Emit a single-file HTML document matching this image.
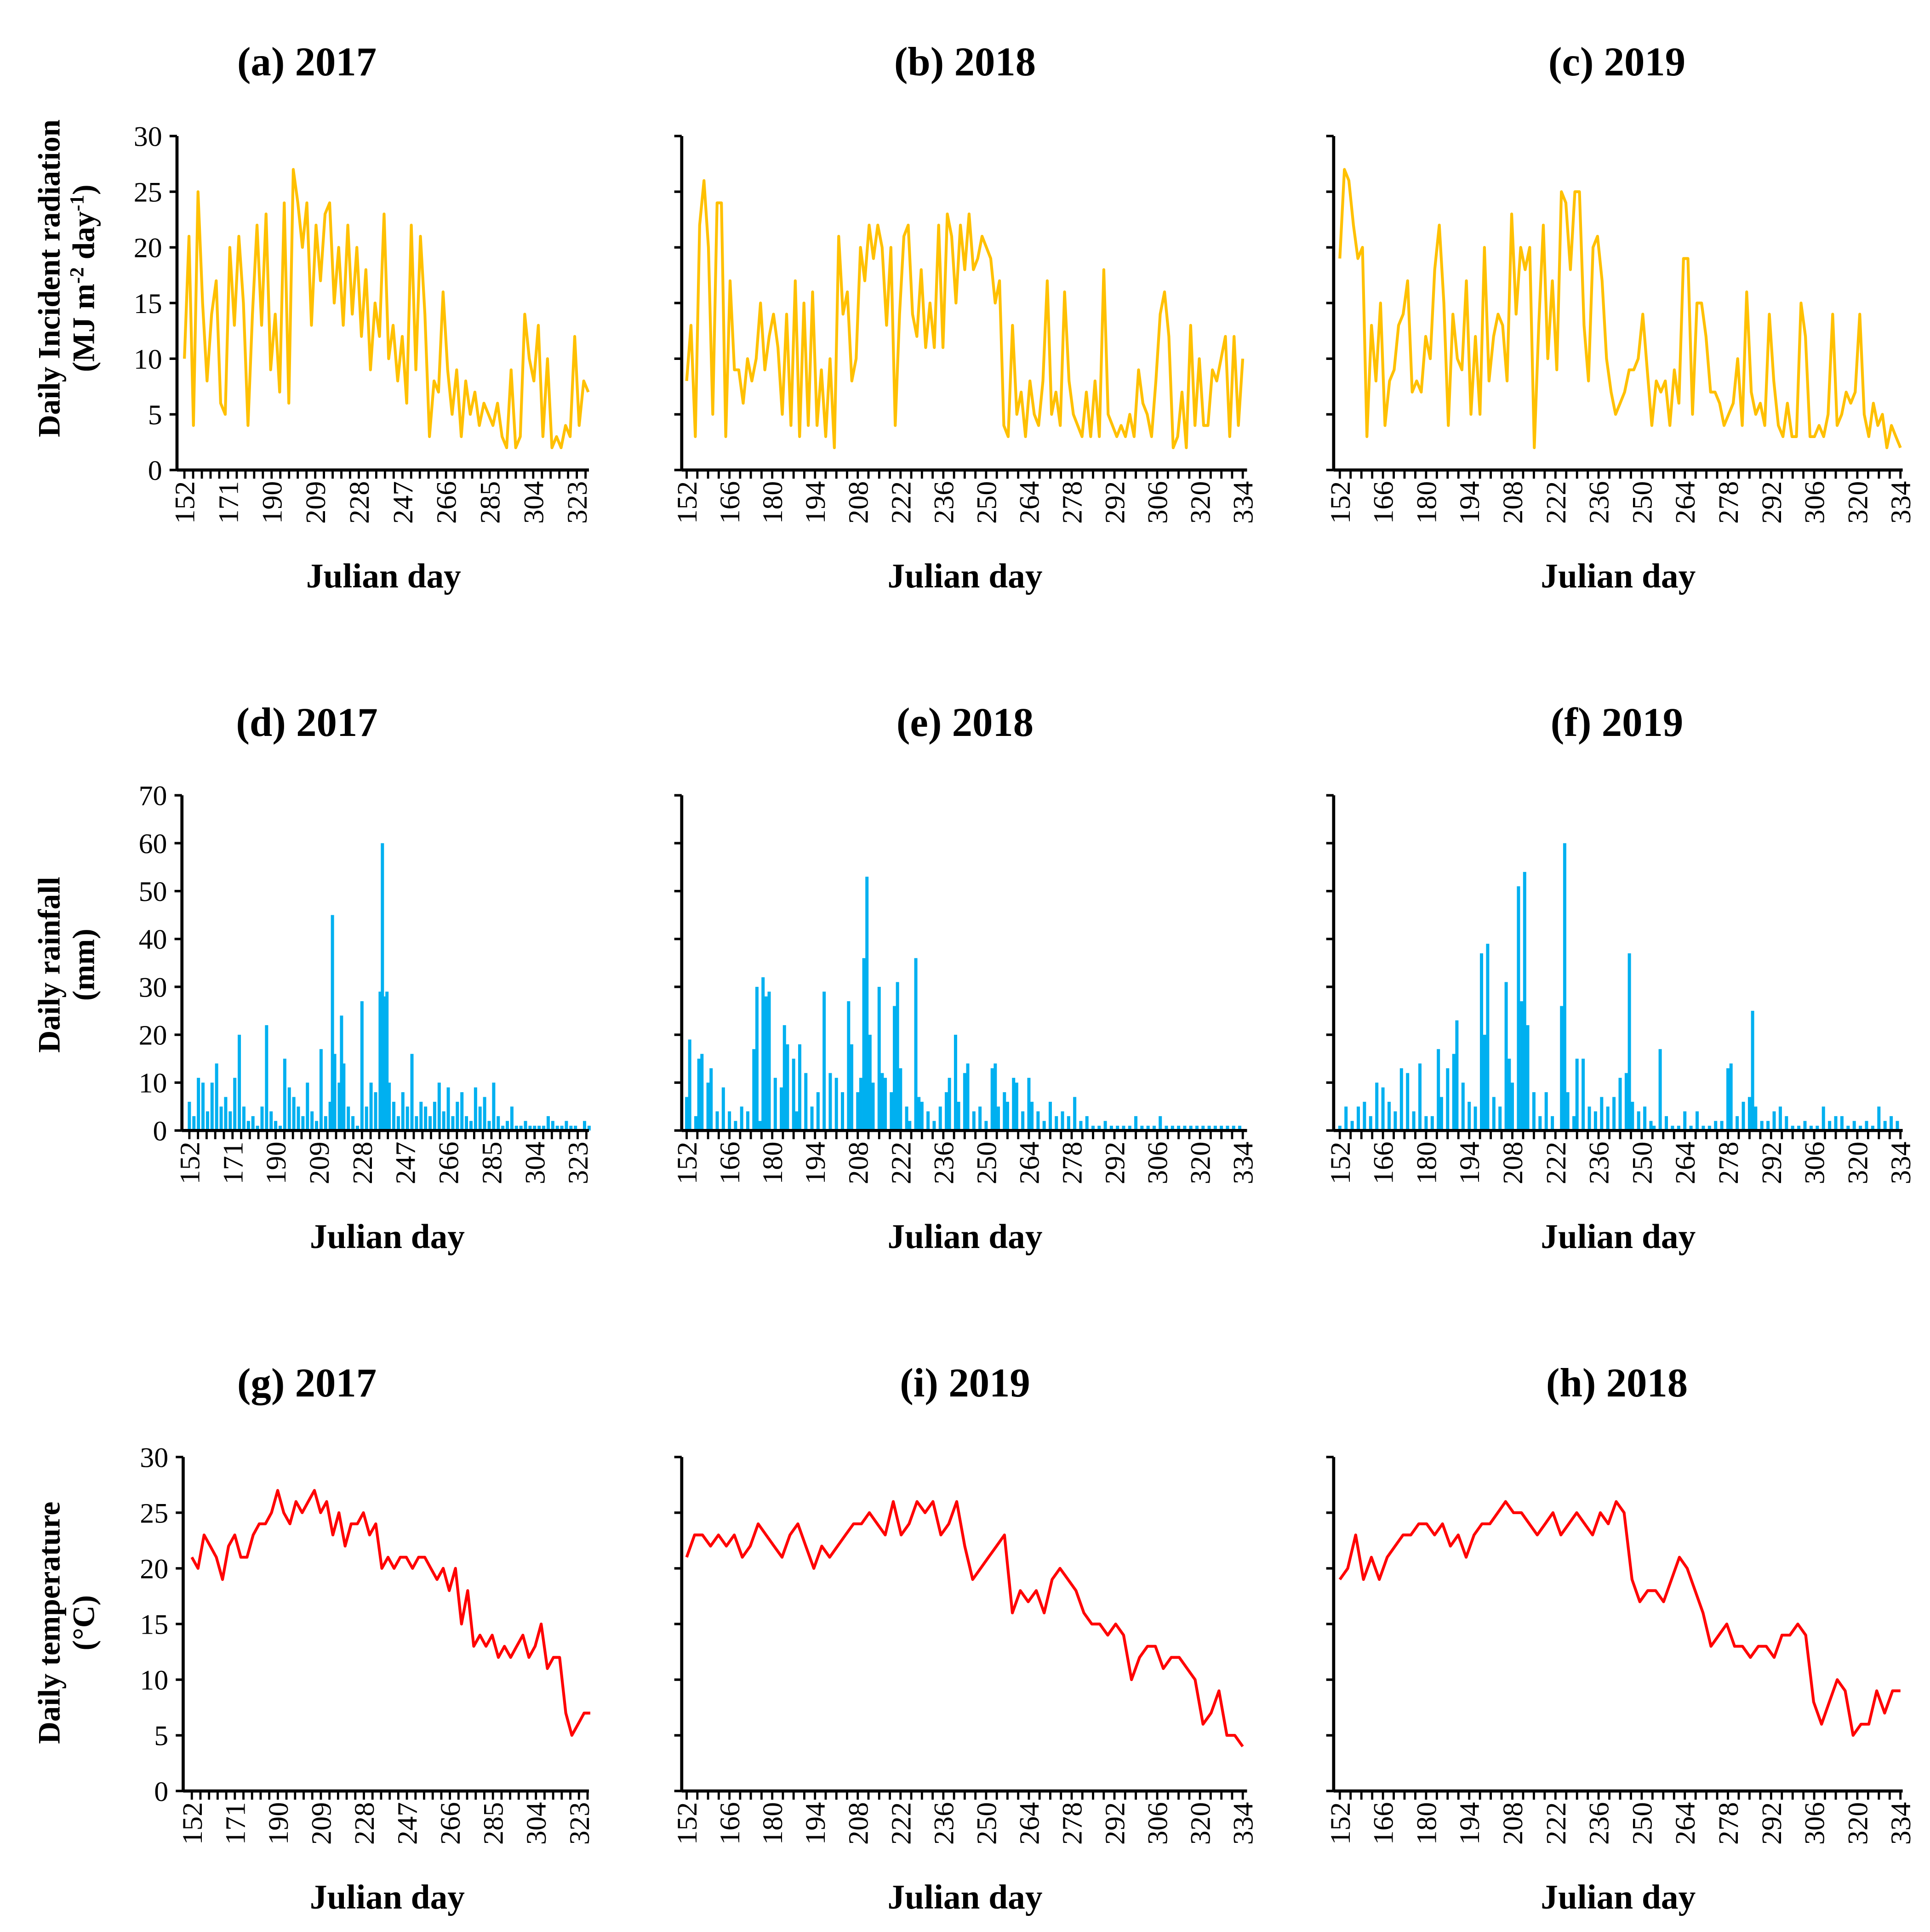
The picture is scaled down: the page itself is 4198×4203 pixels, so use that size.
<!DOCTYPE html>
<html><head><meta charset="utf-8">
<style>
html,body{margin:0;padding:0;background:#fff;}
svg{display:block;font-family:"Liberation Serif",serif;}
</style></head>
<body>
<svg id="chart" width="4198" height="4203" viewBox="0 0 1560 1562" xmlns="http://www.w3.org/2000/svg">
<rect width="1560" height="1562" fill="#fff"/>
</svg>
<script>
// ---------- data ----------
const radA = [10,21,4,25,15,8,14,17,6,5,20,13,21,15,4,14,22,13,23,9,14,7,24,6,27,24,20,24,13,22,17,23,24,15,20,13,22,14,20,12,18,9,15,12,23,10,13,8,12,6,22,9,21,14,3,8,7,16,9,5,9,3,8,5,7,4,6,5,4,6,3,2,9,2,3,14,10,8,13,3,10,2,3,2,4,3,12,4,8,7];
const radB = [8,13,3,22,26,20,5,24,24,3,17,9,9,6,10,8,10,15,9,12,14,11,5,14,4,17,3,15,4,16,4,9,3,10,2,21,14,16,8,10,20,17,22,19,22,20,13,20,4,14,21,22,14,12,18,11,15,11,22,11,23,21,15,22,18,23,18,19,21,20,19,15,17,4,3,13,5,7,3,8,5,4,8,17,5,7,4,16,8,5,4,3,7,3,8,3,18,5,4,3,4,3,5,3,9,6,5,3,8,14,16,12,2,3,7,2,13,4,10,4,4,9,8,10,12,3,12,4,10];
const radC = [19,27,26,22,19,20,3,13,8,15,4,8,9,13,14,17,7,8,7,12,10,18,22,15,4,14,10,9,17,5,12,5,20,8,12,14,13,8,23,14,20,18,20,2,13,22,10,17,9,25,24,18,25,25,13,8,20,21,17,10,7,5,6,7,9,9,10,14,9,4,8,7,8,4,9,6,19,19,5,15,15,12,7,7,6,4,5,6,10,4,16,7,5,6,4,14,8,4,3,6,3,3,15,12,3,3,4,3,5,14,4,5,7,6,7,14,5,3,6,4,5,2,4,3,2];
const rainDDays = [152,154,156,158,160,162,164,166,168,170,172,174,176,178,180,182,184,186,188,190,192,194,196,198,200,202,204,206,208,210,212,214,215,216,218,219,220,222,224,226,228,230,232,234,236,237,238,239,240,242,244,246,248,250,252,254,256,258,260,262,264,266,268,270,272,274,276,278,280,282,284,286,288,290,292,294,296,298,300,302,304,306,308,310,312,314,316,318,320,322,326,328];
const rainDVals = [6,3,11,10,4,10,14,5,7,4,11,20,5,2,3,1,5,22,4,2,1,15,9,7,5,3,10,4,2,17,3,6,45,16,10,24,14,5,3,1,27,5,10,8,29,60,28,29,10,6,3,8,5,16,3,6,5,3,6,10,4,9,3,6,8,3,2,9,5,7,2,10,3,1,2,5,1,1,2,1,1,1,1,3,2,1,1,2,1,1,2,1];
const rainEDays = [152,153,155,156,157,159,160,162,164,166,168,170,172,174,175,176,177,178,179,181,183,184,185,187,188,189,191,193,195,197,199,201,203,205,206,208,209,210,211,212,213,215,216,217,219,220,221,222,224,225,227,228,229,231,233,235,237,238,240,241,243,244,246,248,250,252,253,254,256,257,259,260,262,264,265,267,269,271,273,275,277,279,281,283,285,287,289,291,293,295,297,299,301,303,305,307,309,311,313,315,317,319,321,323,325,327,329,331,333];
const rainEVals = [7,19,3,15,16,10,13,4,9,4,2,5,4,17,30,2,32,28,29,11,9,22,18,15,4,18,12,5,8,29,12,11,8,27,18,8,11,36,53,20,10,30,12,11,8,26,31,13,5,2,36,7,6,4,2,5,8,11,20,6,12,14,4,5,2,13,14,5,8,6,11,10,4,11,6,4,2,6,3,4,3,7,2,3,1,1,2,1,1,1,1,3,1,1,1,3,1,1,1,1,1,1,1,1,1,1,1,1,1];
const rainFDays = [152,154,156,158,160,162,164,166,168,170,172,174,176,178,180,182,184,185,187,189,190,192,194,196,198,199,200,202,204,206,207,208,210,211,212,213,215,217,219,221,224,225,226,228,229,231,233,235,237,239,241,243,245,246,247,249,251,253,254,256,258,260,262,264,266,268,270,272,274,276,278,279,281,283,285,286,287,289,291,293,295,297,299,301,303,305,307,309,311,313,315,317,319,321,323,325,327,329,331,333];
const rainFVals = [1,5,2,5,6,3,10,9,6,4,13,12,4,14,3,3,17,7,13,16,23,10,6,5,37,20,39,7,5,31,15,10,51,27,54,22,8,3,8,3,26,60,8,3,15,15,5,4,7,5,7,11,12,37,6,4,5,2,1,17,3,1,1,4,1,4,1,1,2,2,13,14,3,6,7,25,5,2,2,4,5,3,1,1,2,1,1,5,2,3,3,1,2,1,2,1,5,2,3,2];
const tempG = [21,20,23,22,21,19,22,23,21,21,23,24,24,25,27,25,24,26,25,26,27,25,26,23,25,22,24,24,25,23,24,20,21,20,21,21,20,21,21,20,19,20,18,20,15,18,13,14,13,14,12,13,12,13,14,12,13,15,11,12,12,7,5,6,7,7];
const tempI = [21,23,23,22,23,22,23,21,22,24,23,22,21,23,24,22,20,22,21,22,23,24,24,25,24,23,26,23,24,26,25,26,23,24,26,22,19,20,21,22,23,16,18,17,18,16,19,20,19,18,16,15,15,14,15,14,10,12,13,13,11,12,12,11,10,6,7,9,5,5,4];
const tempH = [19,20,23,19,21,19,21,22,23,23,24,24,23,24,22,23,21,23,24,24,25,26,25,25,24,23,24,25,23,24,25,24,23,25,24,26,25,19,17,18,18,17,19,21,20,18,16,13,14,15,13,13,12,13,13,12,14,14,15,14,8,6,8,10,9,5,6,6,9,7,9,9];
const ticks2017 = [152,171,190,209,228,247,266,285,304,323];
const ticksOther = [152,166,180,194,208,222,236,250,264,278,292,306,320,334];

// ---------- helpers ----------
const NS = "http://www.w3.org/2000/svg";
const svg = document.getElementById("chart");
function mk(tag, attrs, parent){const e=document.createElementNS(NS,tag);for(const k in attrs)e.setAttribute(k,attrs[k]);(parent||svg).appendChild(e);return e;}

function panel(p){
  const g = mk("g",{});
  
  
  const xs = d => p.x152 + (d-152)*p.rate;
  const ys = v => p.bottom - v/p.ymax*(p.bottom-p.top);
  const t = mk("text",{x:p.tx,y:p.titleY,"text-anchor":"middle","font-size":33,"font-weight":"bold"},g);
  t.textContent = p.title;
  
  
  if(p.type==="line"){
    const n = p.vals.length;
    const dEnd = p.dEnd;
    let d="";
    p.vals.forEach((v,i)=>{const day=152+i*(dEnd-152)/(n-1);d+=(i?"L":"M")+xs(day).toFixed(1)+","+ys(v).toFixed(1);});
    const path = mk("path",{d:d,fill:"none",stroke:p.color,"stroke-width":2.3,"stroke-linejoin":"round"},g);
    
    
  } else {
    p.days.forEach((day,i)=>{
      const v=p.vals[i];
      const r = mk("rect",{x:xs(day)-1.3,y:ys(v),width:2.6,height:p.bottom-ys(v),fill:p.color},g);
      
      
    });
  }
  const yAx = mk("line",{x1:p.axisLeft,y1:p.top,x2:p.axisLeft,y2:p.bottom,stroke:"#000","stroke-width":2.5},g);
  
  
  const xAx = mk("line",{x1:p.axisLeft,y1:p.bottom,x2:p.axisRight,y2:p.bottom,stroke:"#000","stroke-width":2.5},g);
  
  
  for(let v=0; v<=p.ymax; v+=p.ystep){
    mk("line",{x1:p.axisLeft-6,y1:ys(v),x2:p.axisLeft,y2:ys(v),stroke:"#000","stroke-width":2},g);
    if(p.showY){
      const tl = mk("text",{x:p.axisLeft-12,y:ys(v)+8,"text-anchor":"end","font-size":23},g);
      tl.textContent = v;
      
      
    }
  }
  for(let d=152; xs(d)<=p.axisRight+1; d+=p.minor){
    mk("line",{x1:xs(d),y1:p.bottom,x2:xs(d),y2:p.bottom+7,stroke:"#000","stroke-width":1.8},g);
  }
  p.ticks.forEach(d=>{
    const x=xs(d), y=p.bottom+9;
    const tl = mk("text",{x:x+8,y:y,"text-anchor":"end","font-size":23,transform:`rotate(-90 ${x+8} ${y})`},g);
    tl.textContent = d;
    
    
  });
  const xt = mk("text",{x:p.cx,y:p.bottom+95,"text-anchor":"middle","font-size":28,"font-weight":"bold"},g);
  xt.textContent = "Julian day";
  
  
}

const rows = [
  {top:110,bottom:380,ymax:30,ystep:5,titleY:61},
  {top:643,bottom:914,ymax:70,ystep:10,titleY:595},
  {top:1178,bottom:1448,ymax:30,ystep:5,titleY:1129}
];
const cols = [
  {x152:149,rate:1.855,axisLeft:143,axisRight:476,dEnd:328,ticks:ticks2017,minor:3.8,cx:310,tx:248,showY:true},
  {x152:555,rate:2.47,axisLeft:551,axisRight:1008,dEnd:334,ticks:ticksOther,minor:3.5,cx:780,tx:780,showY:false},
  {x152:1083,rate:2.49,axisLeft:1078,axisRight:1538,dEnd:334,ticks:ticksOther,minor:3.5,cx:1308,tx:1307,showY:false}
];
const defs = [
  {r:0,c:0,name:"panel-a-radiation-2017",title:"(a) 2017",type:"line",vals:radA,color:"#FFC000"},
  {r:0,c:1,name:"panel-b-radiation-2018",title:"(b) 2018",type:"line",vals:radB,color:"#FFC000"},
  {r:0,c:2,name:"panel-c-radiation-2019",title:"(c) 2019",type:"line",vals:radC,color:"#FFC000"},
  {r:1,c:0,name:"panel-d-rainfall-2017",title:"(d) 2017",type:"bar",days:rainDDays,vals:rainDVals,color:"#00B0F0"},
  {r:1,c:1,name:"panel-e-rainfall-2018",title:"(e) 2018",type:"bar",days:rainEDays,vals:rainEVals,color:"#00B0F0"},
  {r:1,c:2,name:"panel-f-rainfall-2019",title:"(f) 2019",type:"bar",days:rainFDays,vals:rainFVals,color:"#00B0F0"},
  {r:2,c:0,name:"panel-g-temperature-2017",title:"(g) 2017",type:"line",vals:tempG,color:"#FF0000"},
  {r:2,c:1,name:"panel-i-temperature-2019",title:"(i) 2019",type:"line",vals:tempI,color:"#FF0000"},
  {r:2,c:2,name:"panel-h-temperature-2018",title:"(h) 2018",type:"line",vals:tempH,color:"#FF0000"}
];
defs.forEach(d=>{
  const p = Object.assign({}, rows[d.r], cols[d.c], d);
  if(d.r===1 && d.c===0){p.axisLeft=147;p.x152=153;p.rate=1.836;p.cx=313;}
  if(d.r===2 && d.c===0){p.axisLeft=148;p.x152=155;p.rate=1.83;p.cx=313;}
  panel(p);
});

function ytitle(lines, cy, name){
  lines.forEach((ln,i)=>{
    const x = 48 + i*28;
    const t = mk("text",{x:x,y:cy,"text-anchor":"middle","font-size":25,"font-weight":"bold",transform:`rotate(-90 ${x} ${cy})`});
    t.innerHTML = ln;
    
    
  });
}
ytitle(["Daily Incident radiation","(MJ m<tspan baseline-shift='super' font-size='16'>-2</tspan> day<tspan baseline-shift='super' font-size='16'>-1</tspan>)"],225,"radiation-y-axis-title");
ytitle(["Daily rainfall","(mm)"],780,"rainfall-y-axis-title");
ytitle(["Daily temperature","(°C)"],1312,"temperature-y-axis-title");
</script>
</body></html>
